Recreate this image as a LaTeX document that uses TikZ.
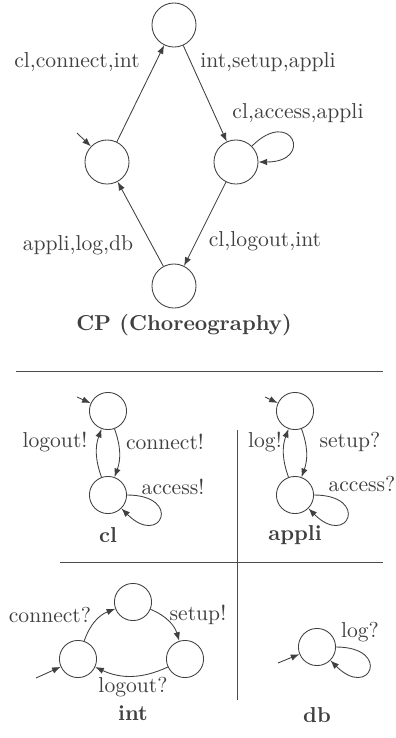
\documentclass[tikz,border=0pt]{standalone}
\usepackage{amsmath}
\usepackage{tikz}
\usetikzlibrary{calc}
\usetikzlibrary{arrows.meta}

\begin{document}
\begin{tikzpicture}[x=0.463pt, y=-0.463pt,
        every node/.style={text=black!75},
        bigstate/.style={circle, draw=black!75, inner sep=0pt, minimum size=20.4pt},
        state/.style={circle, draw=black!75, inner sep=0pt, minimum size=17.2pt},
        trans/.style={draw=black!75, -{Latex[length=4pt, width=3pt]}},
        lbl/.style={inner sep=0pt},
        caption/.style={inner sep=0pt, font=\bfseries}]

        \useasboundingbox (0,0) rectangle (396,738);

        % choreography
        \node[bigstate] (cpT) at (174,25) {};
        \node[bigstate] (cpL) at (107,162) {};
        \node[bigstate] (cpR) at (236,162) {};
        \node[bigstate] (cpB) at (174,286) {};
        \coordinate (cpInit) at (77,133);

        \path[trans] (cpInit) -- (cpL);
        \path[trans] (cpL) -- (cpT);
        \path[trans] (cpT) -- (cpR);
        \path[trans] (cpR) -- (cpB);
        \path[trans] (cpB) -- (cpL);
        \path[trans] (cpR) to[out=45, in=0, distance=26pt] (cpR);

        \node[lbl] (cpConnect) at (77,62) {cl,connect,int};
        \node[lbl] (cpSetup) at (268,62) {int,setup,appli};
        \node[lbl] (cpAccess) at (298,113) {cl,access,appli};
        \node[lbl] (cpLog) at (78,245) {appli,log,db};
        \node[lbl] (cpLogout) at (265,241) {cl,logout,int};
        \node[caption] (cpName) at (184,325) {CP (Choreography)};

        % separators
        \coordinate (sepA1) at (16,371);
        \coordinate (sepA2) at (383,371);
        \coordinate (sepB1) at (60,562);
        \coordinate (sepB2) at (383,562);
        \coordinate (sepV1) at (237,430);
        \coordinate (sepV2) at (237,700);
        \path[draw, black!70] (sepA1) -- (sepA2);
        \path[draw, black!70] (sepB1) -- (sepB2);
        \path[draw, black!70] (sepV1) -- (sepV2);

        % cl
        \node[state] (clT) at (108,411) {};
        \node[state] (clB) at (108,495) {};
        \coordinate (clInit) at (77,397);
        \path[trans] (clInit) -- (clT);
        \path[trans] (clT) to[bend left=20] (clB);
        \path[trans] (clB) to[bend left=20] (clT);
        \path[trans] (clB) to[out=0, in=-45, distance=26pt] (clB);
        \node[lbl] (clLogout) at (55,442) {logout!};
        \node[lbl] (clConnect) at (165,442) {connect!};
        \node[lbl] (clAccess) at (173,487) {access!};
        \node[caption] (clName) at (108,535) {cl};

        % appli
        \node[state] (apT) at (295,411) {};
        \node[state] (apB) at (295,495) {};
        \coordinate (apInit) at (265,397);
        \path[trans] (apInit) -- (apT);
        \path[trans] (apT) to[bend left=20] (apB);
        \path[trans] (apB) to[bend left=20] (apT);
        \path[trans] (apB) to[out=0, in=-45, distance=26pt] (apB);
        \node[lbl] (apLog) at (265,442) {log!};
        \node[lbl] (apSetup) at (350,442) {setup?};
        \node[lbl] (apAccess) at (362,484) {access?};
        \node[caption] (apName) at (295,535) {appli};

        % int
        \node[state] (inT) at (133,602) {};
        \node[state] (inL) at (78,659) {};
        \node[state] (inR) at (185,659) {};
        \coordinate (inInit) at (36,678);
        \path[trans] (inInit) -- (inL);
        \path[trans] (inL) to[bend left=25] (inT);
        \path[trans] (inT) to[bend left=25] (inR);
        \path[trans] (inR) to[bend left=25] (inL);
        \node[lbl] (inConnect) at (50,615) {connect?};
        \node[lbl] (inSetup) at (198,615) {setup!};
        \node[lbl] (inLogout) at (133,687) {logout?};
        \node[caption] (inName) at (133,713) {int};

        % db
        \node[state] (dbS) at (317,647) {};
        \coordinate (dbInit) at (278,663);
        \path[trans] (dbInit) -- (dbS);
        \path[trans] (dbS) to[out=0, in=-45, distance=26pt] (dbS);
        \node[lbl] (dbLog) at (360,632) {log?};
        \node[caption] (dbName) at (317,715) {db};

    \end{tikzpicture}
\end{document}
